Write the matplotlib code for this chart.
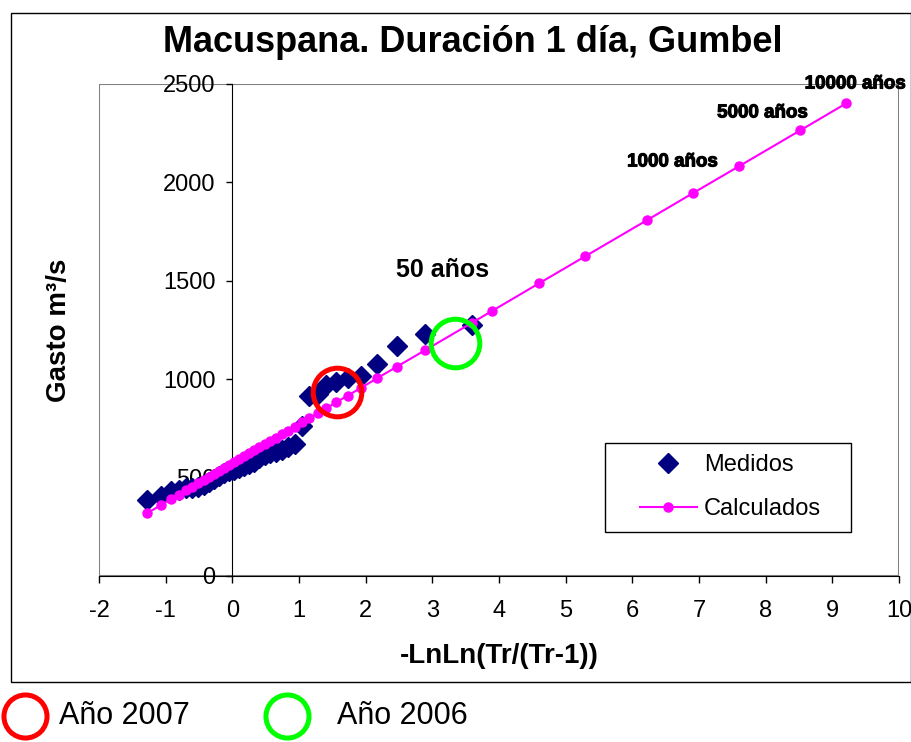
import matplotlib
matplotlib.use('Agg')
import matplotlib.pyplot as plt
import matplotlib.patheffects as pe
from matplotlib.lines import Line2D
from matplotlib.patches import Rectangle

plt.rcParams['font.family'] = ['Liberation Sans', 'DejaVu Sans']
plt.rcParams['axes.unicode_minus'] = False

# gastos medidos (orden de mayor a menor) y su variable reducida -LnLn(Tr/(Tr-1))
medidos_x = [3.597, 2.890, 2.470, 2.168, 1.930, 1.732, 1.562, 1.412, 1.278, 1.155,
             1.042, 0.936, 0.838, 0.743, 0.654, 0.568, 0.486, 0.406, 0.328, 0.251,
             0.176, 0.102, 0.029, -0.045, -0.119, -0.193, -0.269, -0.346, -0.426, -0.510,
             -0.598, -0.694, -0.800, -0.921, -1.071, -1.284]
medidos_y = [1275, 1230, 1170, 1075, 1015, 1005, 985, 970, 925, 915,
             760, 670, 655, 640, 630, 625, 615, 600, 580, 570,
             560, 550, 540, 535, 525, 510, 495, 480, 460, 450,
             445, 445, 435, 430, 405, 385]

# gastos calculados con Gumbel
calc_x = [-1.284, -1.071, -0.921, -0.800, -0.694, -0.598, -0.510, -0.426, -0.346, -0.269,
          -0.193, -0.119, -0.045, 0.029, 0.102, 0.176, 0.251, 0.328, 0.406, 0.486,
          0.568, 0.654, 0.743, 0.838, 0.936, 1.042, 1.155, 1.278, 1.412, 1.562,
          1.732, 1.930, 2.168, 2.470, 2.890, 3.597, 3.902, 4.600, 5.296, 6.214,
          6.907, 7.600, 8.517, 9.210]
calc_y = [318, 360, 390, 414, 435, 454, 472, 488, 504, 520,
          535, 549, 564, 579, 593, 608, 623, 638, 654, 670,
          686, 703, 721, 739, 759, 780, 802, 827, 853, 883,
          917, 956, 1004, 1064, 1147, 1287, 1348, 1487, 1625, 1807,
          1945, 2082, 2264, 2402]

x_ticks = list(range(-2, 11))
y_ticks = [0, 500, 1000, 1500, 2000, 2500]

fig = plt.figure(figsize=(9.12, 7.42), dpi=100)
ax = fig.add_axes([99 / 912, 166 / 742, 800 / 912, 492 / 742])

ax.plot(medidos_x, medidos_y, linestyle='none', marker='D', markersize=10,
        color='#000080', label='Medidos', zorder=3)
ax.plot(calc_x, calc_y, color='#FF00FF', linewidth=1.5, marker='o', markersize=6.5,
        label='Calculados', zorder=4)

# circulos de los eventos
ax.plot([1.57], [935], marker='o', markersize=35, markerfacecolor='none',
        markeredgecolor='#FF0000', markeredgewidth=3.6, zorder=5)
ax.plot([3.34], [1184], marker='o', markersize=35, markerfacecolor='none',
        markeredgecolor='#00FF00', markeredgewidth=3.6, zorder=5)

ax.set_xlim(-2, 10)
ax.set_ylim(0, 2500)
ax.set_xticks(x_ticks)
ax.set_yticks(y_ticks)

ax.spines['left'].set_position(('data', 0))
ax.spines['top'].set_visible(False)
ax.spines['right'].set_visible(False)
ax.add_patch(Rectangle((0, 0), 1, 1, transform=ax.transAxes, fill=False,
                       edgecolor='#808080', linewidth=1.5, zorder=0.5))
ax.tick_params(axis='x', direction='out', length=5, width=1, pad=12, labelsize=17)
ax.tick_params(axis='y', direction='out', length=4, width=1, pad=8, labelsize=17)

ax.set_xlabel('-LnLn(Tr/(Tr-1))', fontsize=20, fontweight='bold')
ax.set_ylabel('Gasto m³/s', fontsize=20, fontweight='bold')
ax.xaxis.set_label_coords(0.5, -0.137)
ax.yaxis.set_label_coords(-0.034, 0.5)

heavy = [pe.withStroke(linewidth=0.8, foreground='black')]
ax.text(3.16, 1555, '50 años', fontsize=18, fontweight='bold', ha='center', va='center')
ax.text(6.60, 2104, '1000 años', fontsize=13.5, fontweight='bold', ha='center', va='center',
        path_effects=heavy)
ax.text(7.95, 2353, '5000 años', fontsize=13.5, fontweight='bold', ha='center', va='center',
        path_effects=heavy)
ax.text(9.34, 2500, '10000 años', fontsize=13.5, fontweight='bold', ha='center', va='center',
        path_effects=heavy, clip_on=False)

# leyenda sin marco, el marco se dibuja aparte
leg = ax.legend(loc='upper left', bbox_to_anchor=(640 / 912, 1 - 454 / 742),
                bbox_transform=fig.transFigure, borderaxespad=0, borderpad=0,
                fontsize=17, numpoints=1, handlelength=2.4, handletextpad=0.3,
                frameon=False, labelspacing=0.95)
fig.add_artist(Rectangle((605 / 912, 210 / 742), 246 / 912, 89 / 742, transform=fig.transFigure,
                         fill=False, edgecolor='black', linewidth=1))

fig.text(473 / 912, 1 - 42 / 742, 'Macuspana. Duración 1 día, Gumbel', fontsize=26,
         fontweight='bold', ha='center', va='center')

# marco del grafico
fig.add_artist(Rectangle((11 / 912, 60 / 742), 900 / 912, 669 / 742, transform=fig.transFigure,
                         fill=False, edgecolor='black', linewidth=1))

# leyenda inferior de los circulos
fig.add_artist(Line2D([25 / 912], [26 / 742], transform=fig.transFigure, marker='o',
                      markersize=31, markerfacecolor='none', markeredgecolor='#FF0000',
                      markeredgewidth=3.6))
fig.add_artist(Line2D([287 / 912], [26 / 742], transform=fig.transFigure, marker='o',
                      markersize=31, markerfacecolor='none', markeredgecolor='#00FF00',
                      markeredgewidth=3.6))
fig.text(59 / 912, 26 / 742, 'Año 2007', fontsize=22, ha='left', va='center')
fig.text(337 / 912, 26 / 742, 'Año 2006', fontsize=22, ha='left', va='center')

fig.savefig('out.png', dpi=100)
